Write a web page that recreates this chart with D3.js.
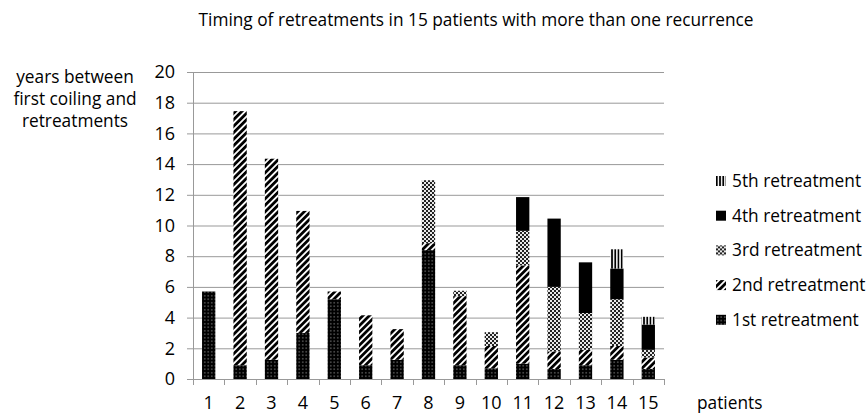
<!DOCTYPE html>
<html><head><meta charset="utf-8">
<script src="https://cdn.jsdelivr.net/npm/d3@7"></script>
<style>body{margin:0;background:#fff}svg{display:block}text{font-family:"Open Sans",sans-serif;fill:#000}</style>
</head><body>
<svg id="c" width="866" height="415"></svg>
<script>
const patients = ["1","2","3","4","5","6","7","8","9","10","11","12","13","14","15"];
const first  = [5.7, 0.9, 1.25, 3.0, 5.2, 0.9, 1.25, 8.4, 0.9, 0.7, 1.0, 0.65, 0.9, 1.25, 0.65];
const second = [0, 16.55, 13.1, 7.95, 0.5, 3.25, 2.0, 0.45, 4.5, 1.45, 6.4, 1.15, 1.0, 0.9, 0.75];
const third  = [0, 0, 0, 0, 0, 0, 0, 4.1, 0.35, 0.9, 2.25, 4.2, 2.4, 3.05, 0.5];
const fourth = [0, 0, 0, 0, 0, 0, 0, 0, 0, 0, 2.2, 4.45, 3.3, 2.0, 1.65];
const fifth  = [0, 0, 0, 0, 0, 0, 0, 0, 0, 0, 0, 0, 0, 1.25, 0.5];
const seriesNames = ["1st retreatment","2nd retreatment","3rd retreatment","4th retreatment","5th retreatment"];
const yTicks = [0,2,4,6,8,10,12,14,16,18,20];
const title = "Timing of retreatments in 15 patients with more than one recurrence";
const yLabel = ["years between","first coiling and","retreatments"];
const xLabel = "patients";

const svg = d3.select("#c");
const defs = svg.append("defs");
// patterns
const p1 = defs.append("pattern").attr("id","p1").attr("patternUnits","userSpaceOnUse").attr("width",3.5).attr("height",3.5);
p1.append("rect").attr("width",3.5).attr("height",3.5).attr("fill","#000");
p1.append("rect").attr("x",1.2).attr("y",1.2).attr("width",1.1).attr("height",1.1).attr("fill","#aaa");
const p2 = defs.append("pattern").attr("id","p2").attr("patternUnits","userSpaceOnUse").attr("width",4.6).attr("height",4.6).attr("patternTransform","rotate(45)");
p2.append("rect").attr("width",4.6).attr("height",4.6).attr("fill","#fff");
p2.append("rect").attr("width",2.8).attr("height",4.6).attr("fill","#000");
const p3 = defs.append("pattern").attr("id","p3").attr("patternUnits","userSpaceOnUse").attr("width",4).attr("height",4);
p3.append("rect").attr("width",4).attr("height",4).attr("fill","#e8e8e8");
p3.append("rect").attr("width",2).attr("height",2).attr("fill","#222");
p3.append("rect").attr("x",2).attr("y",2).attr("width",2).attr("height",2).attr("fill","#222");
const p5 = defs.append("pattern").attr("id","p5").attr("patternUnits","userSpaceOnUse").attr("width",3.2).attr("height",4);
p5.append("rect").attr("width",3.2).attr("height",4).attr("fill","#fff");
p5.append("rect").attr("width",1.7).attr("height",4).attr("fill","#000");
const fills = ["url(#p1)","url(#p2)","url(#p3)","#000","url(#p5)"];

const x = d3.scaleBand().domain(patients).range([193,664]).paddingInner(0.576).paddingOuter(0.288);
const y = d3.scaleLinear().domain([0,20]).range([379,72]);

// gridlines
svg.append("g").selectAll("line").data(yTicks).join("line")
  .attr("x1",187).attr("x2",664).attr("y1",d=>y(d)+0.5).attr("y2",d=>y(d)+0.5)
  .attr("stroke","#999").attr("stroke-width",1);
// y axis line
svg.append("line").attr("x1",193.5).attr("x2",193.5).attr("y1",y(20)).attr("y2",y(0)).attr("stroke","#999");
// y tick labels
const ya = svg.append("g").attr("transform","translate(193,0)").call(d3.axisLeft(y).tickValues(yTicks).tickSize(0).tickPadding(18));
ya.select(".domain").remove();
ya.selectAll("text").attr("font-family","Open Sans").attr("font-size",18).attr("fill","#000");

// x axis ticks at boundaries
const step = x.step();
const bounds = d3.range(patients.length+1).map(i=>x.range()[0]+i*step);
svg.append("g").selectAll("line").data(bounds).join("line")
  .attr("x1",d=>Math.round(d)+0.5).attr("x2",d=>Math.round(d)+0.5).attr("y1",y(0)).attr("y2",y(0)+6)
  .attr("stroke","#999");
const xa = svg.append("g").attr("transform",`translate(0,${y(0)})`).call(d3.axisBottom(x).tickSize(0).tickPadding(17));
xa.select(".domain").remove();
xa.selectAll("text").attr("font-family","Open Sans").attr("font-size",18).attr("fill","#000");

// bars
const rows = patients.map((p,i)=>({p, s0:first[i], s1:second[i], s2:third[i], s3:fourth[i], s4:fifth[i]}));
const stack = d3.stack().keys(["s0","s1","s2","s3","s4"])(rows);
svg.append("g").selectAll("g").data(stack).join("g")
  .attr("fill",(d,i)=>fills[i])
  .selectAll("rect").data(d=>d).join("rect")
  .attr("x",d=>x(d.data.p)).attr("width",x.bandwidth())
  .attr("y",d=>y(d[1])).attr("height",d=>y(d[0])-y(d[1]));

// title
svg.append("text").attr("x",476).attr("y",26).attr("text-anchor","middle").attr("font-size",17.3).text(title);
// y label
svg.append("g").selectAll("text").data(yLabel).join("text")
  .attr("x",75).attr("y",(d,i)=>83+i*22).attr("text-anchor","middle").attr("font-size",17.3).text(d=>d);
// x label
svg.append("text").attr("x",697).attr("y",409).attr("font-size",17.3).text(xLabel);

// legend
const legOrder = [4,3,2,1,0];
const lg = svg.append("g").selectAll("g").data(legOrder).join("g")
  .attr("transform",(d,i)=>`translate(716,${187+i*34.7})`);
lg.append("rect").attr("x",0).attr("y",-11).attr("width",10).attr("height",10).attr("fill",d=>fills[d]);
lg.append("text").attr("x",16).attr("y",0).attr("font-size",17.3).text(d=>seriesNames[d]);
</script>
</body></html>
